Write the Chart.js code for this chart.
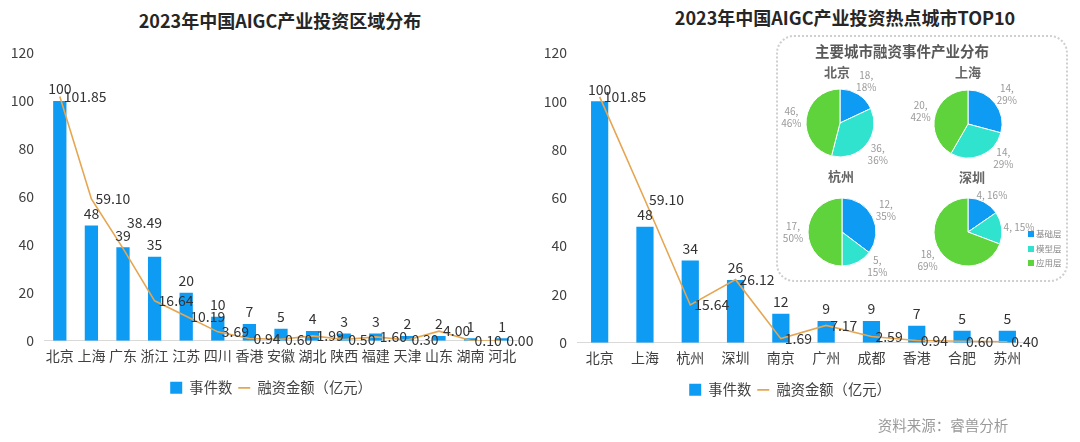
<!DOCTYPE html>
<html><head><meta charset="utf-8">
<script src="https://cdn.jsdelivr.net/npm/chart.js@4.4.0/dist/chart.umd.min.js"></script>
<style>
body{margin:0;width:1080px;height:442px;background:#fff;position:relative;overflow:hidden;font-family:'Noto Sans CJK SC',sans-serif;}
canvas{position:absolute;}
.t{position:absolute;transform:translateX(-50%);white-space:nowrap;line-height:1;}
.box{position:absolute;left:776px;top:35px;width:288px;height:243px;border:2px dotted #cfcfcf;border-radius:18px;}
.lg{position:absolute;font-size:8.5px;color:#888;line-height:1;white-space:nowrap;}
.lg i{display:inline-block;width:6px;height:6px;margin-right:2px;vertical-align:0px;}
</style></head><body>
<div class="t" style="left:280px;top:11px;font-size:18px;font-weight:bold;color:#262626;">2023年中国AIGC产业投资区域分布</div>
<div class="t" style="left:845px;top:8px;font-size:18px;font-weight:bold;color:#262626;">2023年中国AIGC产业投资热点城市TOP10</div>
<canvas id="left" width="540" height="442" style="left:0;top:0;"></canvas>
<canvas id="right" width="500" height="442" style="left:540px;top:0;"></canvas>
<div class="box"></div>
<div class="t" style="left:902px;top:44px;font-size:14.5px;font-weight:bold;color:#595959;">主要城市融资事件产业分布</div>
<div class="t" id="pt0" style="left:837px;top:65px;font-size:13px;font-weight:bold;color:#666;"></div>
<div class="t" id="pt1" style="left:968px;top:65px;font-size:13px;font-weight:bold;color:#666;"></div>
<div class="t" id="pt2" style="left:841px;top:169px;font-size:13px;font-weight:bold;color:#666;"></div>
<div class="t" id="pt3" style="left:972px;top:170px;font-size:13px;font-weight:bold;color:#666;"></div>
<canvas id="p0" width="160" height="150" style="left:760px;top:48px;"></canvas>
<canvas id="p1" width="160" height="150" style="left:888px;top:49px;"></canvas>
<canvas id="p2" width="160" height="150" style="left:762px;top:157px;"></canvas>
<canvas id="p3" width="160" height="150" style="left:888px;top:157px;"></canvas>
<div id="pieLegend"></div>
<div class="t" style="left:943px;top:418px;font-size:14.5px;color:#999;">资料来源：睿兽分析</div>
<script>
// ---- data ----
const leftCategories = ['北京','上海','广东','浙江','江苏','四川','香港','安徽','湖北','陕西','福建','天津','山东','湖南','河北'];
const leftEvents = [100,48,39,35,20,10,7,5,4,3,3,2,2,1,1];
const leftFunding = [101.85,59.10,38.49,16.64,10.19,3.69,0.94,0.60,1.99,0.50,1.60,0.30,4.00,0.10,0.00];
const rightCategories = ['北京','上海','杭州','深圳','南京','广州','成都','香港','合肥','苏州'];
const rightEvents = [100,48,34,26,12,9,9,7,5,5];
const rightFunding = [101.85,59.10,15.64,26.12,1.69,7.17,2.59,0.94,0.60,0.40];
const seriesNames = ['事件数','融资金额（亿元）'];
const yMin = 0, yMax = 120, yStep = 20;
const pieCities = ['北京','上海','杭州','深圳'];
const pieLayers = ['基础层','模型层','应用层'];
const pieValues = [[18,36,46],[14,14,20],[12,5,17],[4,4,18]];
const piePercents = [[18,36,46],[29,29,42],[35,15,50],[16,15,69]];
const pieInline = [[false,false,false],[false,false,false],[false,false,false],[true,true,false]];

// ---- styles ----
const FONT = '"Noto Sans CJK SC", sans-serif';
const BLUE = '#0E9BF3', ORANGE = '#E6A651';
const PIE_COLORS = ['#0E9BF3','#2FE3CF','#5ED33C'];

const valueLabels = {
  id: 'valueLabels',
  afterDatasetsDraw(chart) {
    const ctx = chart.ctx;
    ctx.save();
    ctx.font = '14px ' + FONT;
    ctx.fillStyle = '#333';
    ctx.textBaseline = 'middle';
    const bars = chart.getDatasetMeta(0).data;
    const pts = chart.getDatasetMeta(1).data;
    const barBoxes = [];
    ctx.textAlign = 'center';
    bars.forEach((el, i) => {
      const s = String(chart.data.datasets[0].data[i]);
      const w = ctx.measureText(s).width;
      const y = el.y - 12;
      ctx.fillText(s, el.x, y);
      barBoxes.push({ l: el.x - w / 2, r: el.x + w / 2, y });
    });
    ctx.textAlign = 'left';
    pts.forEach((el, i) => {
      const s = chart.data.datasets[1].data[i].toFixed(2);
      const w = ctx.measureText(s).width;
      const l = el.x + 4, r = l + w;
      let y = el.y;
      barBoxes.forEach(b => {
        const xo = Math.min(r, b.r) - Math.max(l, b.l);
        if (xo > 8 && Math.abs(b.y - y) < 10) y = b.y - 22;
      });
      ctx.fillText(s, l, y);
    });
    ctx.restore();
  }
};

const legendShift = {
  id: 'legendShift',
  afterLayout(chart, args, opts) {
    const l = chart.legend;
    if (l) { l.left += opts.dx; l.right += opts.dx; }
  }
};

function comboChart(id, cats, events, funding, yWidth, padRight, padBottom, barPct, dx) {
  return new Chart(document.getElementById(id), {
    type: 'bar',
    data: {
      labels: cats,
      datasets: [
        { type: 'bar', label: seriesNames[0], data: events, backgroundColor: BLUE, borderWidth: 0,
          barPercentage: barPct, categoryPercentage: 1, order: 1, pointStyle: 'rect' },
        { type: 'line', label: seriesNames[1], data: funding, borderColor: ORANGE, backgroundColor: ORANGE,
          borderWidth: 1.6, pointRadius: 0, tension: 0, order: 0, pointStyle: 'line' }
      ]
    },
    options: {
      responsive: false, animation: false, devicePixelRatio: 1,
      layout: { padding: { left: 0, right: padRight, top: 53, bottom: padBottom } },
      scales: {
        x: { grid: { display: false, drawTicks: false }, border: { display: true, color: '#d9d9d9' },
             ticks: { autoSkip: false, maxRotation: 0, padding: 7, color: '#404040', font: { size: 14, family: FONT } },
             afterFit(s) { s.height = 34; } },
        y: { min: yMin, max: yMax, grid: { display: false, drawTicks: false }, border: { display: false },
             ticks: { stepSize: yStep, padding: 10, color: '#404040', font: { size: 14, family: FONT } },
             afterFit(s) { s.width = yWidth; } }
      },
      plugins: {
        tooltip: { enabled: false },
        legendShift: { dx },
        legend: { position: 'bottom',
          labels: { usePointStyle: true, pointStyleWidth: 12, boxHeight: 12, padding: 6, color: '#404040',
                    font: { size: 14.3, family: FONT },
                    sort: (a, b) => a.datasetIndex - b.datasetIndex } }
      }
    },
    plugins: [valueLabels, legendShift]
  });
}

comboChart('left', leftCategories, leftEvents, leftFunding, 44, 22, 37, 0.42, 12);
comboChart('right', rightCategories, rightEvents, rightFunding, 37, 10, 35, 0.38, 5);

const pieLabels = {
  id: 'pieLabels',
  afterDatasetsDraw(chart, args, opts) {
    const ctx = chart.ctx;
    ctx.save();
    ctx.font = '10px ' + FONT;
    ctx.fillStyle = '#9a9a9a';
    ctx.textAlign = 'center';
    ctx.textBaseline = 'middle';
    chart.getDatasetMeta(0).data.forEach((arc, i) => {
      const mid = (arc.startAngle + arc.endAngle) / 2;
      const ro = arc.outerRadius;
      const v = chart.data.datasets[0].data[i], p = opts.percents[i];
      if (opts.inline[i]) {
        const s = v + ', ' + p + '%';
        const hw = ctx.measureText(s).width / 2;
        const R = ro + 8;
        const x = arc.x + Math.cos(mid) * R + Math.cos(mid) * (hw - 6);
        const y = arc.y + Math.sin(mid) * R;
        ctx.fillText(s, x, y);
      } else {
        const R = ro + 15;
        let dx = Math.cos(mid) * R, dy = Math.sin(mid) * R;
        if (dy > ro) { dy = ro; dx = Math.sign(dx || 1) * Math.sqrt(R * R - ro * ro); }
        const x = arc.x + dx, y = arc.y + dy;
        ctx.fillText(v + ',', x, y - 6);
        ctx.fillText(p + '%', x, y + 6);
      }
    });
    ctx.restore();
  }
};

pieCities.forEach((city, k) => {
  document.getElementById('pt' + k).textContent = city;
  new Chart(document.getElementById('p' + k), {
    type: 'pie',
    data: { labels: pieLayers, datasets: [{ data: pieValues[k], backgroundColor: PIE_COLORS, borderColor: '#fff', borderWidth: 1 }] },
    options: {
      responsive: false, animation: false, devicePixelRatio: 1, radius: 34,
      layout: { padding: 0 },
      plugins: { legend: { display: false }, tooltip: { enabled: false },
                 pieLabels: { percents: piePercents[k], inline: pieInline[k] } }
    },
    plugins: [pieLabels]
  });
});

const lg = document.getElementById('pieLegend');
pieLayers.forEach((name, i) => {
  const d = document.createElement('div');
  d.className = 'lg';
  d.style.left = '1028px';
  d.style.top = (229 + i * 14.5) + 'px';
  d.innerHTML = '<i style="background:' + PIE_COLORS[i] + '"></i>' + name;
  lg.appendChild(d);
});
</script>
</body></html>
